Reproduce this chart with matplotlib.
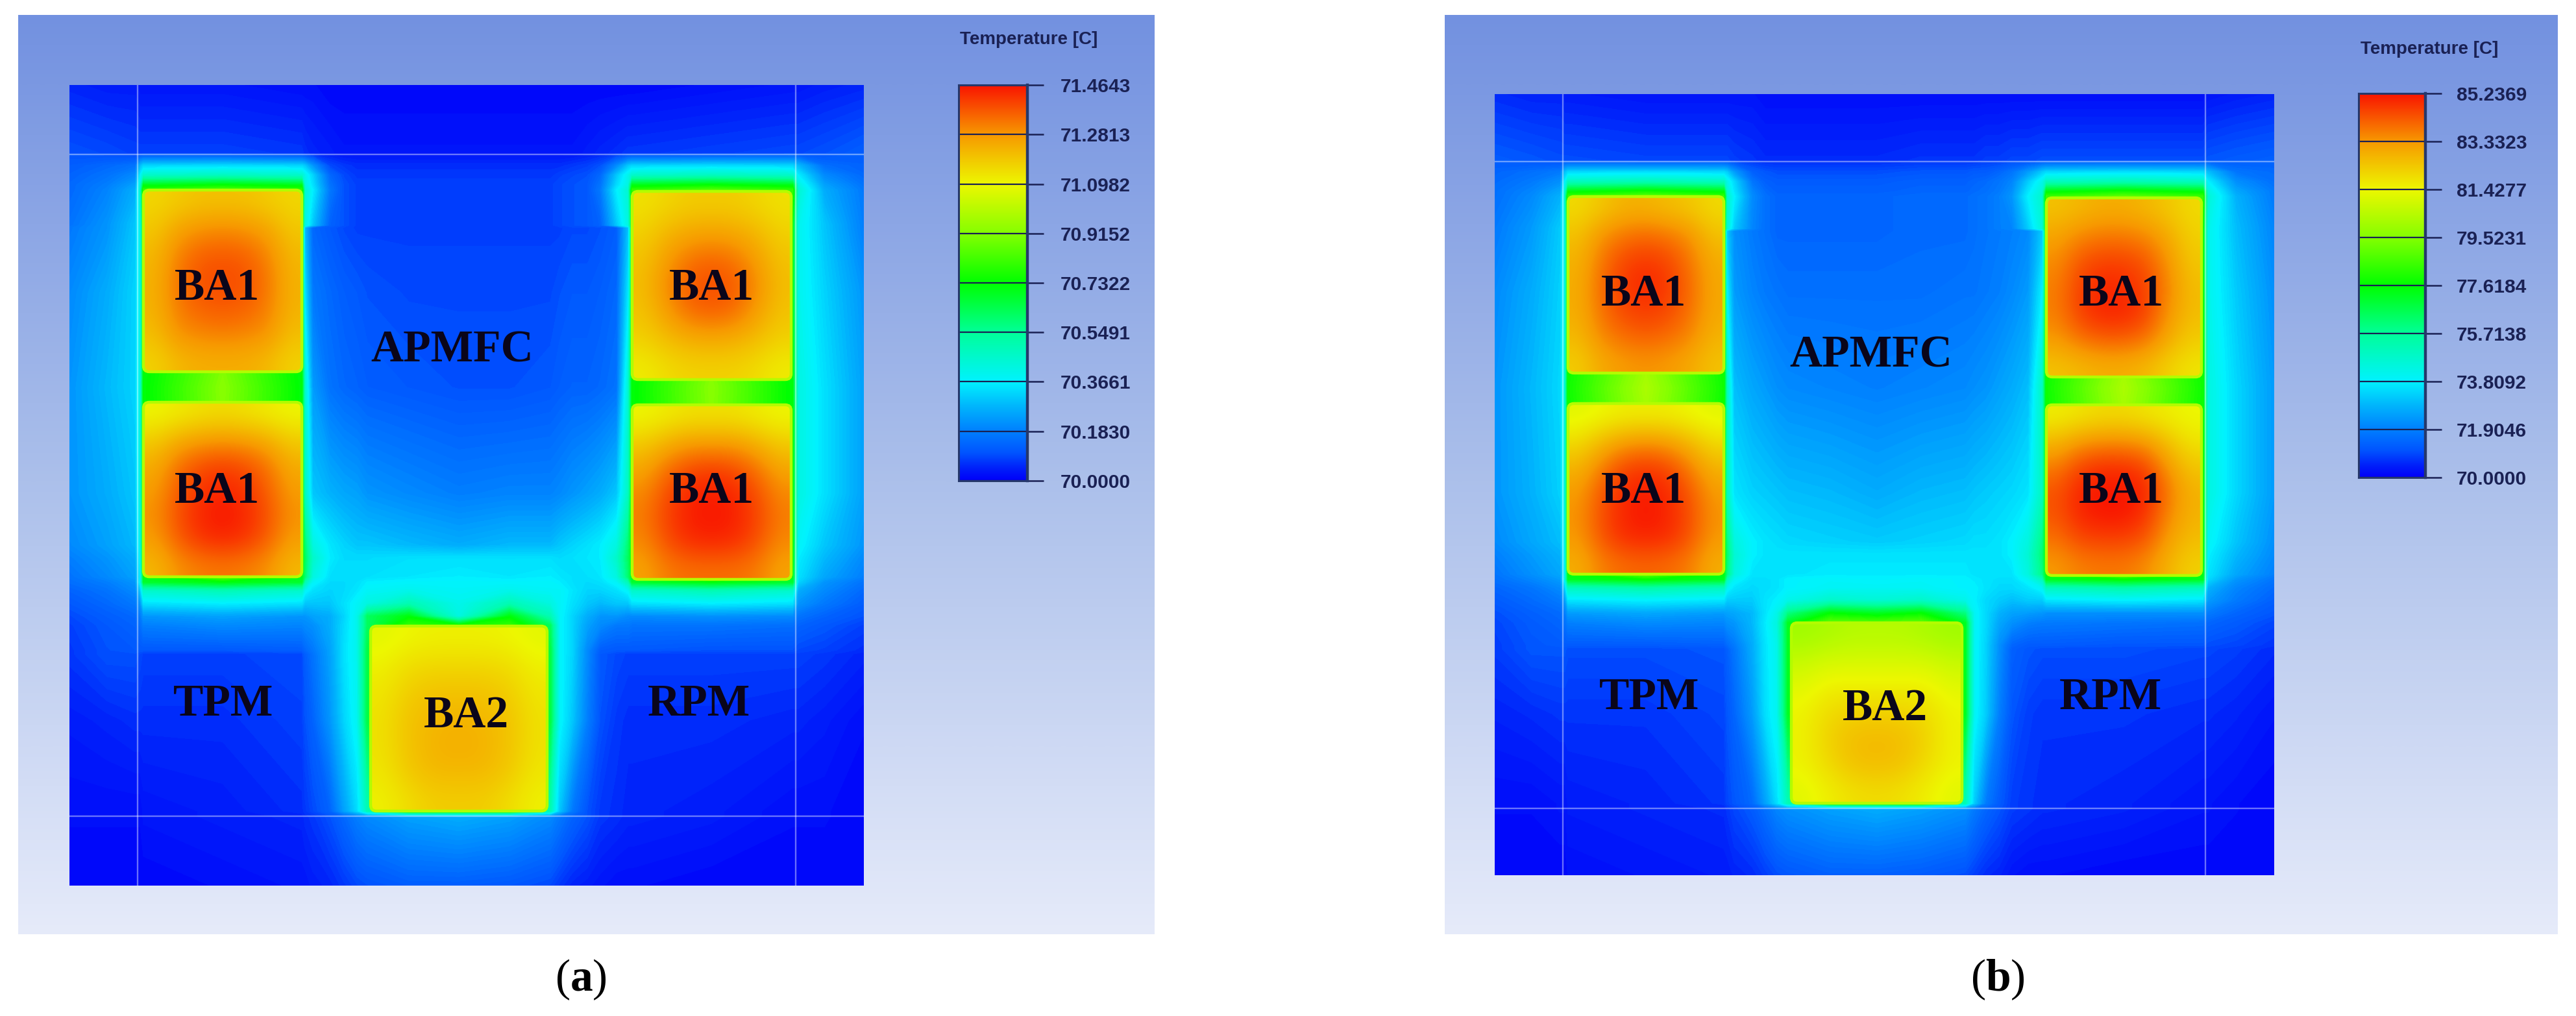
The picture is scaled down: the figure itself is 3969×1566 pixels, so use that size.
import numpy as np
import matplotlib
matplotlib.use("Agg")
import matplotlib.pyplot as plt
from matplotlib.colors import LinearSegmentedColormap, Normalize
from matplotlib.patches import FancyBboxPatch

plt.rcParams.update({"mathtext.fontset": "custom", "mathtext.rm": "Liberation Serif",
                     "mathtext.bf": "Liberation Serif:bold"})

W, H = 3969, 1566

# ---- colour-bar readings -------------------------------------------------
ticks_a = [70.0000, 70.1830, 70.3661, 70.5491, 70.7322, 70.9152, 71.0982, 71.2813, 71.4643]
ticks_b = [70.0000, 71.9046, 73.8092, 75.7138, 77.6184, 79.5231, 81.4277, 83.3323, 85.2369]
colorbar_title = "Temperature [C]"

# ---- temperature field, panel (a): rise above 70 C in 0.01 C, read at nodes ----
nodes_x_a = [107,165,208,216,221,343,465,470,482,508,530,550,566,630,707,785,848,862,882,905,925,950,968,974,1096,1221,1230,1270,1331]
nodes_y_a = [131,236,255,270,285,293,347,351,450,597,760,840,860,889,897,910,930,950,964,1002,1008,1110,1250,1258,1365]
rise_a = [
[5,4,4,3,3,3,2,2,2,1,1,1,1,1,1,1,1,1,1,1,1,1,1,1,2,3,3,4,5],
[10,9,8,8,8,8,7,6,5,4,3,3,3,3,3,3,3,3,3,4,5,6,7,7,8,9,9,10,12],
[12,14,16,28,32,33,32,30,22,9,7,6,6,6,6,6,6,6,7,8,10,20,30,32,33,32,28,15,13],
[13,16,20,36,46,48,46,40,32,14,9,7,7,7,7,7,7,8,9,10,14,30,40,46,48,46,36,20,14],
[14,18,24,42,70,73,70,42,34,16,10,8,8,8,8,8,8,9,10,11,16,33,42,70,73,70,42,24,16],
[14,19,26,45,80,85,80,45,36,17,10,8,8,8,8,8,8,9,10,11,17,36,45,80,85,80,45,26,17],
[16,22,30,40,70,85,70,42,30,13,10,8,8,8,8,8,8,9,10,11,13,30,42,70,85,70,40,30,18],
[17,22,30,40,70,85,70,28,14,11,9,8,8,8,8,8,8,8,9,9,10,12,30,70,85,70,40,30,18],
[20,26,32,40,70,85,70,34,17,14,12,11,10,9,9,9,9,10,11,11,12,14,35,70,85,70,40,32,22],
[22,28,32,42,72,92,72,45,23,16,14,13,12,11,10,10,11,12,13,13,14,16,45,72,92,72,42,34,24],
[22,26,30,42,72,90,72,48,30,27,25,24,22,20,18,19,19,20,22,24,26,30,48,72,90,72,42,34,24],
[20,24,28,40,72,90,72,60,42,35,32,30,30,28,26,28,28,30,32,34,36,42,60,72,90,72,38,30,22],
[18,22,26,38,72,90,72,62,46,36,33,33,33,34,34,34,34,33,34,35,36,46,62,72,90,72,36,28,20],
[16,20,24,36,70,85,70,60,42,34,34,34,34,35,36,35,36,35,34,34,35,42,60,70,85,70,34,25,18],
[15,18,22,38,68,72,68,50,38,33,33,34,36,37,37,37,37,36,34,33,34,38,50,68,72,68,32,22,16],
[13,16,20,30,46,50,46,38,34,32,33,35,38,40,38,40,38,38,35,32,32,34,38,46,50,46,26,20,14],
[11,14,17,22,34,36,34,30,30,30,34,38,42,50,40,50,42,38,34,30,28,30,30,34,36,34,22,17,12],
[9,12,14,17,22,24,22,22,24,26,32,40,62,72,42,72,50,38,32,26,22,22,20,20,21,20,16,13,10],
[8,11,13,15,18,20,19,20,21,26,33,40,62,80,75,80,62,38,32,24,20,17,17,16,16,15,13,11,8],
[7,10,11,11,11,11,12,14,17,24,34,40,65,85,85,85,65,38,32,20,12,11,11,11,10,10,9,8,6],
[7,10,10,9,8,8,9,12,16,24,34,40,65,85,85,85,65,38,32,20,11,9,8,8,8,8,8,7,5],
[4,5,6,6,6,6,8,10,13,22,32,39,65,85,85,85,65,38,30,18,10,7,6,6,6,5,5,4,2],
[2,2,2,2,3,4,6,7,9,13,24,33,50,75,75,75,50,30,17,10,7,6,5,5,4,2,2,2,1],
[2,2,2,2,3,4,5,6,7,10,14,18,20,24,26,24,20,17,13,10,7,6,5,5,4,2,2,2,1],
[1,1,1,1,1,2,3,3,4,5,7,9,10,12,12,11,9,7,5,4,3,2,2,2,1,1,1,1,1],
]
ba1_ul_a = [[116,118,120,120,120,118,116],[119,126,129,130,129,126,119],[122,131,136,137,136,131,122],
            [123,133,138,139,138,133,123],[123,132,136,137,136,132,123],[121,129,131,132,131,129,121],[117,122,124,124,124,122,117]]
ba1_ll_a = [[110,112,114,115,114,112,110],[118,124,127,128,127,124,118],[124,133,138,140,138,133,124],
            [127,136,142,144,142,136,127],[129,138,144,146,144,138,129],[127,136,142,144,142,136,127],[122,129,132,133,132,129,122]]
ba1_ur_a = [[114,116,118,118,118,116,114],[117,122,125,126,125,122,117],[120,127,133,135,133,127,120],
            [121,130,137,139,137,130,121],[120,127,134,136,134,127,120],[117,121,124,125,124,121,117],[112,115,117,117,117,115,112]]
ba1_lr_a = [[110,112,114,114,114,112,110],[118,123,127,127,127,123,118],[125,133,138,140,138,133,125],
            [130,138,144,145,144,138,130],[132,140,145,146,145,140,132],[130,138,143,144,143,138,130],[126,132,134,134,134,132,126]]
ba2_a = [[108,110,111,111,111,110,108],[111,115,116,116,116,115,111],[113,118,120,120,120,118,113],
         [114,120,122,123,122,120,114],[114,120,123,124,123,120,114],[113,119,122,122,122,119,113],[111,115,118,118,118,115,111]]

# ---- temperature field, panel (b): rise above 70 C in 0.1 C, read at nodes -----
nodes_x_b = [2303,2360,2404,2411,2416,2536,2656,2661,2672,2700,2720,2738,2755,2820,2892,2960,3028,3042,3060,3080,3100,3125,3147,3153,3272,3394,3402,3445,3504]
nodes_y_b = [145,247,265,280,295,303,352,356,450,598,760,835,855,885,893,906,925,945,960,994,1000,1100,1238,1246,1349]
rise_b = [
[6,5,5,4,4,3,3,3,3,3,2,2,2,2,2,2,2,2,2,2,2,2,2,2,2,2,3,4,5],
[12,11,10,10,10,9,9,9,8,7,6,6,6,6,6,7,7,7,8,8,9,9,10,10,10,10,11,12,13],
[14,16,18,30,34,35,34,32,24,13,11,10,10,10,10,11,11,12,12,14,17,24,32,34,35,34,30,17,15],
[15,18,22,38,50,52,50,42,34,17,13,12,12,12,12,13,13,14,15,17,20,32,42,50,52,50,38,22,16],
[16,20,26,44,74,78,74,46,36,20,15,13,13,13,13,14,14,15,16,18,22,36,46,74,78,74,44,26,18],
[16,21,28,46,84,90,84,48,38,21,16,14,14,14,14,15,15,16,17,19,23,38,48,84,90,84,46,28,18],
[18,24,32,42,76,90,76,46,32,20,16,14,14,14,14,15,15,16,17,19,20,32,46,76,90,76,42,30,20],
[18,24,32,42,76,90,76,32,22,18,16,14,14,14,14,15,15,16,17,18,19,21,32,76,90,76,42,30,20],
[21,27,33,42,76,92,76,38,24,20,18,17,16,16,16,16,17,17,18,19,21,24,38,76,92,76,42,32,22],
[23,29,34,44,78,102,78,50,30,26,24,22,21,20,19,20,21,22,23,25,27,30,50,78,102,78,44,34,24],
[23,28,33,44,76,96,76,50,36,33,32,31,30,29,27,29,30,31,32,33,34,36,50,76,96,76,44,34,24],
[21,26,30,42,76,96,76,60,44,38,36,35,34,33,32,33,34,35,35,36,38,44,60,76,96,76,40,31,22],
[19,24,28,40,76,96,76,62,46,38,36,36,36,36,36,36,36,36,36,36,38,46,62,76,96,76,38,29,21],
[17,22,26,38,74,90,74,60,44,36,36,36,36,37,37,37,37,36,36,36,36,44,60,74,90,74,36,26,19],
[16,20,24,40,72,76,72,50,40,35,35,36,38,39,38,39,38,37,36,35,35,40,50,72,76,72,34,23,17],
[14,17,21,32,50,54,50,40,36,34,35,36,38,40,40,40,38,38,36,34,34,36,40,50,54,50,28,20,15],
[12,15,18,24,36,38,36,32,32,32,36,38,42,48,46,48,42,38,34,32,30,32,32,36,38,36,24,18,13],
[10,13,15,18,24,26,24,25,26,29,36,42,60,76,72,76,60,40,34,28,25,24,23,22,22,22,18,14,11],
[9,12,14,16,19,21,20,22,23,29,37,44,72,90,88,90,72,40,34,26,22,19,18,18,17,16,14,12,9],
[8,11,12,12,12,12,13,15,18,27,36,42,72,95,95,95,72,40,33,22,14,12,12,12,11,11,10,9,7],
[8,11,11,11,10,10,11,13,17,27,36,42,72,95,95,95,72,40,33,22,13,11,10,10,10,9,9,8,6],
[5,6,7,7,7,7,9,11,14,24,35,41,72,95,95,95,72,40,32,19,11,8,7,7,7,6,6,5,3],
[2,2,3,3,4,5,7,9,11,15,25,35,52,80,80,80,52,32,18,12,8,7,6,6,5,3,3,2,1],
[2,2,3,3,4,5,6,7,9,12,16,20,22,25,27,25,22,18,14,11,8,7,6,6,5,3,3,2,1],
[1,1,1,1,2,3,4,4,5,6,8,10,11,13,13,12,10,8,6,5,3,2,2,2,1,1,1,1,1],
]
ba1_ul_b = [[120,124,128,128,126,124,120],[125,134,138,140,138,134,125],[128,138,145,147,145,138,129],
            [129,140,147,150,147,140,130],[129,139,145,147,145,139,130],[127,136,140,142,140,136,128],[123,130,133,134,133,130,125]]
ba1_ll_b = [[112,114,116,116,116,114,112],[119,126,131,133,131,126,119],[127,136,144,146,144,136,127],
            [132,142,149,151,149,142,132],[134,144,150,152,150,144,134],[133,143,149,150,149,143,133],[129,137,140,141,140,137,129]]
ba1_ur_b = [[125,127,129,129,127,124,120],[131,136,138,138,136,130,122],[135,143,146,146,143,134,124],
            [137,146,150,149,146,136,126],[137,146,150,150,146,134,126],[133,139,142,142,139,130,123],[125,127,129,129,127,122,118]]
ba1_lr_b = [[116,118,120,120,118,116,114],[127,133,135,135,133,125,118],[137,145,148,148,145,133,124],
            [143,150,152,152,150,138,128],[143,150,152,152,148,136,128],[139,145,146,146,143,132,126],[133,137,138,138,135,128,122]]
ba2_b = [[100,102,104,104,104,102,100],[107,110,110,110,110,110,107],[112,116,116,116,116,116,112],
         [115,120,122,122,122,120,115],[115,122,126,127,126,122,115],[115,120,125,126,125,120,115],[112,116,119,120,119,116,112]]

# ---- labels ------------------------------------------------------------------
labels_a = [("BA1",335,445),("BA1",335,758),("BA1",1096,445),("BA1",1096,758),("APMFC",697,541),("TPM",344,1086),("RPM",1077,1086),("BA2",718,1104)]
labels_b = [("BA1",2532,454),("BA1",2532,758),("BA1",3269,454),("BA1",3269,758),("APMFC",2883,548),("TPM",2541,1076),("RPM",3252,1076),("BA2",2904,1093)]

cmap = LinearSegmentedColormap.from_list("ansys", [
    (0.000, (0.00, 0.00, 0.98)), (0.030, (0.00, 0.12, 0.98)), (0.070, (0.00, 0.33, 1.00)),
    (0.125, (0.00, 0.50, 1.00)), (0.190, (0.00, 0.72, 0.99)), (0.250, (0.00, 0.95, 1.00)),
    (0.375, (0.00, 1.00, 0.60)), (0.500, (0.00, 1.00, 0.00)), (0.625, (0.52, 1.00, 0.00)),
    (0.750, (0.93, 0.97, 0.00)), (0.875, (0.97, 0.60, 0.00)), (1.000, (0.98, 0.08, 0.00))], N=512)
bg_cmap = LinearSegmentedColormap.from_list("bg", [(0.45, 0.57, 0.88), (0.67, 0.75, 0.92), (0.90, 0.92, 0.98)])
NAVY = (0.10, 0.13, 0.33)
INK = (0.04, 0.02, 0.10)

fig = plt.figure(figsize=(W / 100, H / 100), dpi=100, facecolor="white")

def px_axes(x0, y0, x1, y1, **kw):
    return fig.add_axes([x0 / W, 1 - y1 / H, (x1 - x0) / W, (y1 - y0) / H], **kw)

def draw_panel(bg_box, sim_box, nodes_x, nodes_y, rise, unit, ticks, blocks, lines_x, lines_y,
               labels, bar_box, bar_label_x, title_xy, caption, caption_x):
    bg = px_axes(*bg_box)
    bg.imshow(np.linspace(0, 1, 256)[:, None], cmap=bg_cmap, aspect="auto", interpolation="bilinear")
    bg.axis("off")

    tmin, tmax = ticks[0], ticks[-1]
    norm = Normalize(tmin, tmax)
    ax = px_axes(*sim_box)
    temp = tmin + np.array(rise) * unit
    ax.contourf(nodes_x, nodes_y, temp, levels=np.linspace(tmin, tmax, 160), cmap=cmap, norm=norm,
                extend="both", antialiased=False)
    for (x0, x1, y0, y1, cells) in blocks:
        im = ax.imshow(tmin + np.array(cells) * unit, extent=(x0, x1, y1, y0), cmap=cmap, norm=norm,
                       interpolation="bicubic", aspect="auto", zorder=2)
        box = FancyBboxPatch((x0, y0), x1 - x0, y1 - y0, boxstyle="round,pad=0,rounding_size=9",
                             fc="none", ec=cmap(0.68), lw=3.2, zorder=3)
        ax.add_patch(box)
        im.set_clip_path(box)
    ax.set_xlim(sim_box[0], sim_box[2])
    ax.set_ylim(sim_box[3], sim_box[1])
    for x in lines_x:
        ax.axvline(x, color="white", alpha=0.42, lw=1.7, zorder=4)
    for y in lines_y:
        ax.axhline(y, color="white", alpha=0.42, lw=1.7, zorder=4)
    for txt, x, y in labels:
        ax.text(x, y, txt, family="Liberation Serif", weight="bold", fontsize=50, color=INK,
                ha="center", va="center", zorder=5)
    ax.axis("off")

    bar = px_axes(*bar_box)
    bar.imshow(np.linspace(tmin, tmax, 512)[:, None], extent=(0, 1, tmin, tmax), origin="lower",
               cmap=cmap, norm=norm, aspect="auto", interpolation="bilinear")
    bar.set_xlim(0, 1)
    bar.set_ylim(tmin, tmax)
    bar.hlines(ticks, 0, 1, color=NAVY, lw=1.6)
    bar.set_xticks([])
    bar.yaxis.tick_right()
    bar.set_yticks(ticks)
    bar.set_yticklabels([f"{t:.4f}" for t in ticks], family="Liberation Sans", weight="bold",
                        fontsize=21.5, color=NAVY)
    bar.tick_params(axis="y", length=18, width=1.8, color=NAVY,
                    pad=(bar_label_x - bar_box[2] - 25) * 0.72)
    for s in bar.spines.values():
        s.set_color((0.15, 0.22, 0.42))
        s.set_linewidth(2.2)
    bar.spines["right"].set_linewidth(3.2)

    fig.text(title_xy[0] / W, 1 - title_xy[1] / H, colorbar_title, family="Liberation Sans", weight="bold",
             fontsize=20, color=NAVY, ha="left", va="center")
    fig.text(caption_x / W, 1 - 1510 / H, caption, family="Liberation Serif", fontsize=50,
             color="black", ha="center", va="center")

blocks_a = [(221, 465, 293, 573, ba1_ul_a), (221, 465, 620, 889, ba1_ll_a),
            (974, 1219, 295, 585, ba1_ur_a), (974, 1219, 624, 893, ba1_lr_a),
            (571, 843, 965, 1250, ba2_a)]
blocks_b = [(2416, 2656, 303, 575, ba1_ul_b), (2416, 2656, 622, 885, ba1_ll_b),
            (3153, 3392, 305, 581, ba1_ur_b), (3153, 3392, 624, 887, ba1_lr_b),
            (2760, 3023, 960, 1238, ba2_b)]

draw_panel((28, 23, 1779, 1440), (107, 131, 1331, 1365), nodes_x_a, nodes_y_a, rise_a, 0.01, ticks_a,
           blocks_a, [212, 1226], [238, 1258], labels_a, (1477, 131, 1583, 741), 1634, (1479, 61),
           r"($\mathbf{a}$)", 895)
draw_panel((2226, 23, 3941, 1440), (2303, 145, 3504, 1349), nodes_x_b, nodes_y_b, rise_b, 0.1, ticks_b,
           blocks_b, [2408, 3398], [249, 1246], labels_b, (3634, 144, 3737, 736), 3785, (3637, 76),
           r"($\mathbf{b}$)", 3078)

fig.savefig("out.png", dpi=100, facecolor="white")
